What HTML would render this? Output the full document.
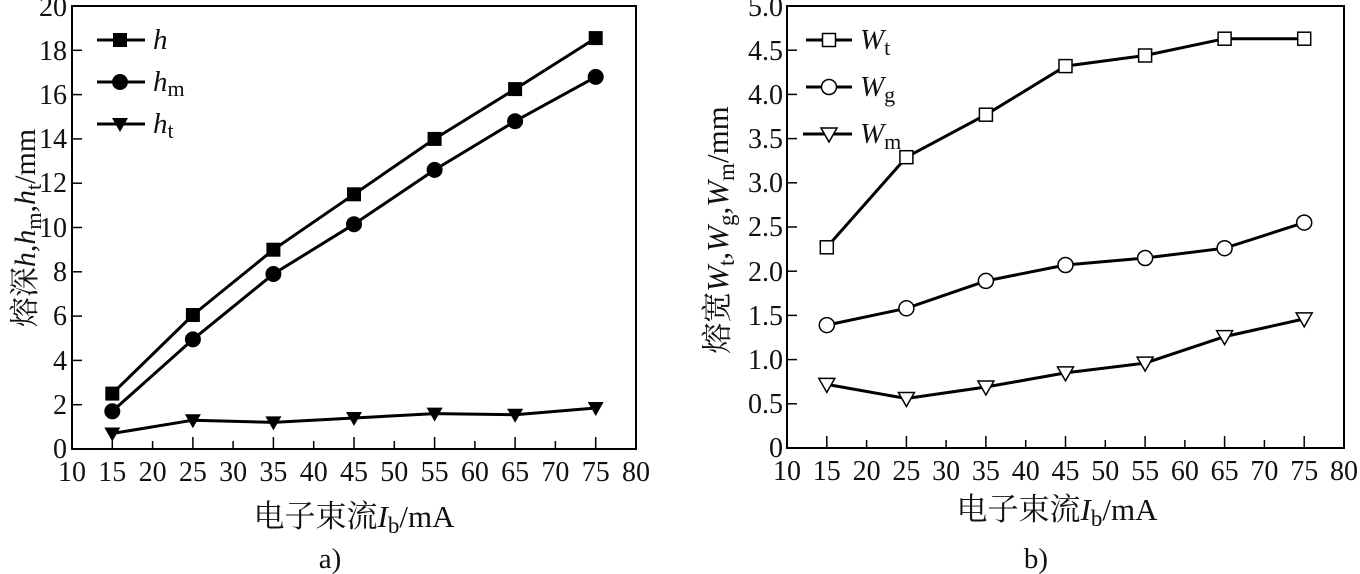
<!DOCTYPE html>
<html><head><meta charset="utf-8"><style>
html,body{margin:0;padding:0;background:#fff;}
svg{display:block;}
text{font-family:"Liberation Serif","Noto Serif CJK SC",serif;fill:#111;}
</style></head><body>
<svg width="1360" height="574" viewBox="0 0 1360 574" xmlns="http://www.w3.org/2000/svg" xmlns:xlink="http://www.w3.org/1999/xlink">
<defs>
<rect id="sq" x="-7" y="-7" width="14" height="14" fill="#000"/>
<circle id="ci" r="8" fill="#000"/>
<polygon id="tri" points="-8,-6 8,-6 0,8" fill="#000"/>
<rect id="osq" x="-6.5" y="-6.5" width="13" height="13" fill="#fff" stroke="#000" stroke-width="1.5"/>
<circle id="oci" r="7.5" fill="#fff" stroke="#000" stroke-width="1.5"/>
<polygon id="otri" points="-8,-6 8,-6 0,8" fill="#fff" stroke="#000" stroke-width="1.5"/>
</defs>

<!-- LEFT CHART -->
<rect x="72" y="6" width="564" height="443" fill="none" stroke="#000" stroke-width="2"/>
<g stroke="#000" stroke-width="1.5">
<line x1="112.3" y1="449" x2="112.3" y2="437"/><line x1="152.6" y1="449" x2="152.6" y2="441"/><line x1="192.9" y1="449" x2="192.9" y2="437"/><line x1="233.1" y1="449" x2="233.1" y2="441"/><line x1="273.4" y1="449" x2="273.4" y2="437"/><line x1="313.7" y1="449" x2="313.7" y2="441"/><line x1="354" y1="449" x2="354" y2="437"/><line x1="394.3" y1="449" x2="394.3" y2="441"/><line x1="434.6" y1="449" x2="434.6" y2="437"/><line x1="474.9" y1="449" x2="474.9" y2="441"/><line x1="515.1" y1="449" x2="515.1" y2="437"/><line x1="555.4" y1="449" x2="555.4" y2="441"/><line x1="595.7" y1="449" x2="595.7" y2="437"/>
<line x1="72" y1="404.7" x2="82" y2="404.7"/><line x1="72" y1="360.4" x2="82" y2="360.4"/><line x1="72" y1="316.1" x2="82" y2="316.1"/><line x1="72" y1="271.8" x2="82" y2="271.8"/><line x1="72" y1="227.5" x2="82" y2="227.5"/><line x1="72" y1="183.2" x2="82" y2="183.2"/><line x1="72" y1="138.9" x2="82" y2="138.9"/><line x1="72" y1="94.6" x2="82" y2="94.6"/><line x1="72" y1="50.3" x2="82" y2="50.3"/>
</g>
<g font-size="28" text-anchor="middle">
<text x="72" y="481">10</text><text x="112.3" y="481">15</text><text x="152.6" y="481">20</text><text x="192.9" y="481">25</text><text x="233.1" y="481">30</text><text x="273.4" y="481">35</text><text x="313.7" y="481">40</text><text x="354" y="481">45</text><text x="394.3" y="481">50</text><text x="434.6" y="481">55</text><text x="474.9" y="481">60</text><text x="515.1" y="481">65</text><text x="555.4" y="481">70</text><text x="595.7" y="481">75</text><text x="636" y="481">80</text>
</g>
<g font-size="28" text-anchor="end">
<text x="67" y="458">0</text><text x="67" y="414">2</text><text x="67" y="370">4</text><text x="67" y="325">6</text><text x="67" y="281">8</text><text x="67" y="237">10</text><text x="67" y="192">12</text><text x="67" y="148">14</text><text x="67" y="104">16</text><text x="67" y="60">18</text><text x="67" y="16">20</text>
</g>
<g fill="none" stroke="#000" stroke-width="3">
<polyline points="112.3,393.6 192.9,315 273.4,249.7 354,194.3 434.6,138.9 515.1,89.1 595.7,38.1"/>
<polyline points="112.3,411.3 192.9,339.4 273.4,274 354,224.2 434.6,169.9 515.1,121.2 595.7,76.9"/>
<polyline points="112.3,433.5 192.9,420.2 273.4,422.4 354,418 434.6,413.6 515.1,414.7 595.7,408"/>
</g>
<use xlink:href="#sq" x="112.3" y="393.6"/><use xlink:href="#sq" x="192.9" y="315"/><use xlink:href="#sq" x="273.4" y="249.7"/><use xlink:href="#sq" x="354" y="194.3"/><use xlink:href="#sq" x="434.6" y="138.9"/><use xlink:href="#sq" x="515.1" y="89.1"/><use xlink:href="#sq" x="595.7" y="38.1"/>
<use xlink:href="#ci" x="112.3" y="411.3"/><use xlink:href="#ci" x="192.9" y="339.4"/><use xlink:href="#ci" x="273.4" y="274"/><use xlink:href="#ci" x="354" y="224.2"/><use xlink:href="#ci" x="434.6" y="169.9"/><use xlink:href="#ci" x="515.1" y="121.2"/><use xlink:href="#ci" x="595.7" y="76.9"/>
<use xlink:href="#tri" x="112.3" y="433.5"/><use xlink:href="#tri" x="192.9" y="420.2"/><use xlink:href="#tri" x="273.4" y="422.4"/><use xlink:href="#tri" x="354" y="418"/><use xlink:href="#tri" x="434.6" y="413.6"/><use xlink:href="#tri" x="515.1" y="414.7"/><use xlink:href="#tri" x="595.7" y="408"/>
<g stroke="#000" stroke-width="3"><line x1="97" y1="40" x2="145" y2="40"/><line x1="97" y1="82" x2="145" y2="82"/><line x1="97" y1="124" x2="145" y2="124"/></g>
<use xlink:href="#sq" x="120" y="40"/><use xlink:href="#ci" x="120" y="82"/><use xlink:href="#tri" x="120" y="124"/>
<text x="153" y="49" font-size="29" font-style="italic">h</text>
<text x="153" y="91" font-size="29"><tspan font-style="italic">h</tspan><tspan font-size="22" dy="5">m</tspan></text>
<text x="153" y="133" font-size="29"><tspan font-style="italic">h</tspan><tspan font-size="22" dy="5">t</tspan></text>
<text x="354" y="527" font-size="31" text-anchor="middle">电子束流<tspan font-style="italic">I</tspan><tspan font-size="23" dy="6">b</tspan><tspan dy="-6">/mA</tspan></text>
<text x="330" y="568" font-size="29" text-anchor="middle">a)</text>
<text transform="translate(35,228) rotate(-90)" font-size="30" text-anchor="middle">熔深<tspan font-style="italic">h</tspan>,<tspan font-style="italic">h</tspan><tspan font-size="22" dy="6">m</tspan><tspan dy="-6">,</tspan><tspan font-style="italic">h</tspan><tspan font-size="22" dy="6">t</tspan><tspan dy="-6">/mm</tspan></text>

<!-- RIGHT CHART -->
<rect x="787" y="6" width="557" height="442" fill="none" stroke="#000" stroke-width="2"/>
<g stroke="#000" stroke-width="1.5">
<line x1="826.8" y1="448" x2="826.8" y2="436"/><line x1="866.6" y1="448" x2="866.6" y2="440"/><line x1="906.4" y1="448" x2="906.4" y2="436"/><line x1="946.1" y1="448" x2="946.1" y2="440"/><line x1="985.9" y1="448" x2="985.9" y2="436"/><line x1="1025.7" y1="448" x2="1025.7" y2="440"/><line x1="1065.5" y1="448" x2="1065.5" y2="436"/><line x1="1105.3" y1="448" x2="1105.3" y2="440"/><line x1="1145.1" y1="448" x2="1145.1" y2="436"/><line x1="1184.9" y1="448" x2="1184.9" y2="440"/><line x1="1224.6" y1="448" x2="1224.6" y2="436"/><line x1="1264.4" y1="448" x2="1264.4" y2="440"/><line x1="1304.2" y1="448" x2="1304.2" y2="436"/>
<line x1="787" y1="403.8" x2="797" y2="403.8"/><line x1="787" y1="359.6" x2="797" y2="359.6"/><line x1="787" y1="315.4" x2="797" y2="315.4"/><line x1="787" y1="271.2" x2="797" y2="271.2"/><line x1="787" y1="227" x2="797" y2="227"/><line x1="787" y1="182.8" x2="797" y2="182.8"/><line x1="787" y1="138.6" x2="797" y2="138.6"/><line x1="787" y1="94.4" x2="797" y2="94.4"/><line x1="787" y1="50.2" x2="797" y2="50.2"/>
</g>
<g font-size="28" text-anchor="middle">
<text x="787" y="480">10</text><text x="826.8" y="480">15</text><text x="866.6" y="480">20</text><text x="906.4" y="480">25</text><text x="946.1" y="480">30</text><text x="985.9" y="480">35</text><text x="1025.7" y="480">40</text><text x="1065.5" y="480">45</text><text x="1105.3" y="480">50</text><text x="1145.1" y="480">55</text><text x="1184.9" y="480">60</text><text x="1224.6" y="480">65</text><text x="1264.4" y="480">70</text><text x="1304.2" y="480">75</text><text x="1344" y="480">80</text>
</g>
<g font-size="28" text-anchor="end">
<text x="783" y="457">0</text><text x="783" y="413">0.5</text><text x="783" y="369">1.0</text><text x="783" y="325">1.5</text><text x="783" y="281">2.0</text><text x="783" y="236">2.5</text><text x="783" y="192">3.0</text><text x="783" y="148">3.5</text><text x="783" y="104">4.0</text><text x="783" y="60">4.5</text><text x="783" y="16">5.0</text>
</g>
<g fill="none" stroke="#000" stroke-width="3">
<polyline points="826.8,247.3 906.4,157.2 985.9,114.7 1065.5,66.1 1145.1,55.5 1224.6,38.7 1304.2,38.7"/>
<polyline points="826.8,325.1 906.4,308.3 985.9,280.9 1065.5,265 1145.1,258 1224.6,248.2 1304.2,222.6"/>
<polyline points="826.8,384.4 906.4,398.5 985.9,387 1065.5,372.9 1145.1,363.1 1224.6,336.6 1304.2,318.9"/>
</g>
<use xlink:href="#osq" x="826.8" y="247.3"/><use xlink:href="#osq" x="906.4" y="157.2"/><use xlink:href="#osq" x="985.9" y="114.7"/><use xlink:href="#osq" x="1065.5" y="66.1"/><use xlink:href="#osq" x="1145.1" y="55.5"/><use xlink:href="#osq" x="1224.6" y="38.7"/><use xlink:href="#osq" x="1304.2" y="38.7"/>
<use xlink:href="#oci" x="826.8" y="325.1"/><use xlink:href="#oci" x="906.4" y="308.3"/><use xlink:href="#oci" x="985.9" y="280.9"/><use xlink:href="#oci" x="1065.5" y="265"/><use xlink:href="#oci" x="1145.1" y="258"/><use xlink:href="#oci" x="1224.6" y="248.2"/><use xlink:href="#oci" x="1304.2" y="222.6"/>
<use xlink:href="#otri" x="826.8" y="384.4"/><use xlink:href="#otri" x="906.4" y="398.5"/><use xlink:href="#otri" x="985.9" y="387"/><use xlink:href="#otri" x="1065.5" y="372.9"/><use xlink:href="#otri" x="1145.1" y="363.1"/><use xlink:href="#otri" x="1224.6" y="336.6"/><use xlink:href="#otri" x="1304.2" y="318.9"/>
<g stroke="#000" stroke-width="3"><line x1="806" y1="40" x2="852" y2="40"/><line x1="806" y1="87" x2="852" y2="87"/><line x1="803" y1="134" x2="852" y2="134"/></g>
<use xlink:href="#osq" x="829" y="40"/><use xlink:href="#oci" x="829" y="87"/><use xlink:href="#otri" x="829" y="134"/>
<text x="860" y="49" font-size="29"><tspan font-style="italic">W</tspan><tspan font-size="22" dy="6">t</tspan></text>
<text x="860" y="96" font-size="29"><tspan font-style="italic">W</tspan><tspan font-size="22" dy="6">g</tspan></text>
<text x="860" y="143" font-size="29"><tspan font-style="italic">W</tspan><tspan font-size="22" dy="6">m</tspan></text>
<text x="1057" y="520" font-size="31" text-anchor="middle">电子束流<tspan font-style="italic">I</tspan><tspan font-size="23" dy="6">b</tspan><tspan dy="-6">/mA</tspan></text>
<text x="1036" y="568" font-size="29" text-anchor="middle">b)</text>
<text transform="translate(728,230) rotate(-90)" font-size="31" text-anchor="middle">熔宽<tspan font-style="italic">W</tspan><tspan font-size="23" dy="6">t</tspan><tspan dy="-6">,</tspan><tspan font-style="italic">W</tspan><tspan font-size="23" dy="6">g</tspan><tspan dy="-6">,</tspan><tspan font-style="italic">W</tspan><tspan font-size="23" dy="6">m</tspan><tspan dy="-6">/mm</tspan></text>
</svg>
</body></html>
